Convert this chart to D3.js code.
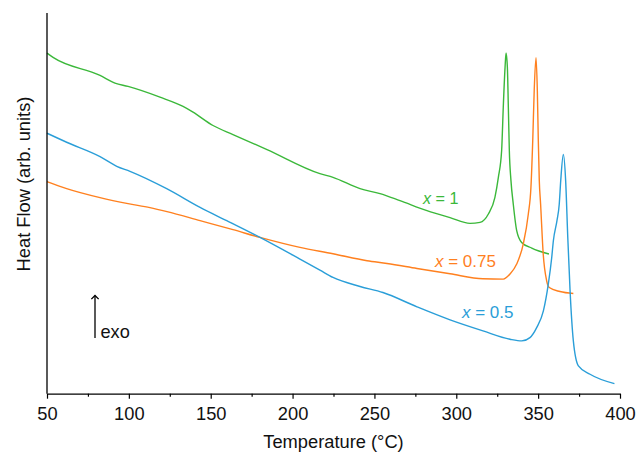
<!DOCTYPE html>
<html>
<head>
<meta charset="utf-8">
<script src="https://cdn.jsdelivr.net/npm/d3@7"></script>
<style>
  html, body { margin: 0; padding: 0; background: #fff; }
  svg { display: block; font-family: "Liberation Sans", Arial, sans-serif; }
</style>
</head>
<body>
<svg id="chart" width="637" height="452"></svg>
<script>
// DSC traces: temperature (°C) and heat flow (arb. units, exo up)
const tempX1 = [50, 53.7, 82.4, 91.5, 99.5, 119, 133.1, 139.2, 151.4, 163.6, 184.4, 216.7, 224.7, 241.2, 253.4, 265.6, 282.1, 296.2, 308.4, 314.5, 319.6, 323.6, 325.7, 327.7, 328.7, 329.8, 330.4, 331.2, 331.8, 332.4, 333.4, 334.8, 336.9, 339.9, 346.1, 356.6];
const flowX1 = [340, 335.7, 317.7, 310, 306.7, 296, 286.7, 281, 267.7, 258.7, 243.7, 219.7, 216, 204.7, 199.7, 192.7, 182.7, 175.7, 170, 171, 179.4, 196, 216, 242.7, 286, 326, 340, 326, 286, 242.7, 212.7, 189.4, 162.7, 151, 145.4, 139.4];

const tempX075 = [50, 62, 82.4, 99.5, 112.9, 123.3, 143.5, 163.6, 180.1, 204.5, 224.7, 245.5, 257.7, 276, 296.2, 316.3, 328.7, 332.8, 336.9, 340.9, 344, 345.6, 346.7, 347.6, 348.7, 349.5, 350.1, 350.7, 351.5, 353.1, 355.2, 356.8, 363.3, 371.5];
const flowX075 = [211.7, 204.7, 195.7, 189.7, 185.7, 181.7, 172.7, 163.7, 156, 146, 139.7, 132.7, 130, 125, 119.7, 114.7, 114.4, 119.4, 129.4, 149.4, 179.4, 206, 252.7, 302.7, 335.4, 302.7, 252.7, 212.7, 189.4, 139.4, 112.7, 106, 102, 100];

const tempX05 = [50, 62, 82.4, 92.6, 100.7, 123.1, 143.5, 159.8, 180.1, 204.5, 216.7, 224.7, 241.2, 255.2, 276, 296.2, 316.3, 332.8, 340, 345, 349.1, 353.2, 356.2, 358.3, 359.3, 361.5, 362.9, 363.8, 365.4, 366.8, 368.1, 369.5, 371.5, 374.6, 381.7, 396.6];
const flowX05 = [260, 251, 236.7, 227, 222, 204.7, 186, 172.7, 156, 134.4, 123.4, 116, 107, 101, 86.7, 73.7, 62.7, 54.4, 52.7, 56, 66, 82.7, 109.4, 136, 152.7, 172.7, 189.4, 212.7, 238.7, 212.7, 156, 102.7, 52.7, 27.7, 19.4, 10];

const seriesNames = ["x = 1", "x = 0.75", "x = 0.5"];
const seriesColors = ["#3bb83a", "#ff801f", "#2a9ed8"];

const majorTicks = [50, 100, 150, 200, 250, 300, 350, 400];
const minorTicks = [75, 125, 175, 225, 275, 325, 375];

const xLabel = "Temperature (°C)";
const yLabel = "Heat Flow (arb. units)";

const svg = d3.select("#chart");
const margin = { left: 47, right: 17, top: 13, bottom: 59 };
const W = 637, H = 452;

const x = d3.scaleLinear().domain([50, 400]).range([margin.left, W - margin.right]);
const y = d3.scaleLinear().domain([0, 380]).range([H - margin.bottom + 0.7, margin.top]);

const series = [
  { name: seriesNames[0], color: seriesColors[0], t: tempX1, f: flowX1, lx: 423, ly: 204, fs: 16.2 },
  { name: seriesNames[1], color: seriesColors[1], t: tempX075, f: flowX075, lx: 435, ly: 267, fs: 17 },
  { name: seriesNames[2], color: seriesColors[2], t: tempX05, f: flowX05, lx: 462, ly: 317.5, fs: 17 }
];

const line = d3.line()
  .x(d => x(d[0]))
  .y(d => y(d[1]))
  .curve(d3.curveMonotoneX);

series.forEach(s => {
  const pts = s.t.map((t, i) => [t, s.f[i]]);
  svg.append("path")
    .datum(pts)
    .attr("fill", "none")
    .attr("stroke", s.color)
    .attr("stroke-width", 1.4)
    .attr("d", line);
});

// Curve labels with italic x
series.forEach(s => {
  const parts = s.name.split(" ");
  const txt = svg.append("text")
    .attr("x", s.lx)
    .attr("y", s.ly)
    .attr("fill", s.color)
    .attr("font-size", s.fs);
  txt.append("tspan").attr("font-style", "italic").text(parts[0]);
  txt.append("tspan").text(" " + parts.slice(1).join(" "));
});

// Axes
const y0 = y(0);
svg.append("line")
  .attr("x1", margin.left).attr("x2", margin.left)
  .attr("y1", margin.top).attr("y2", y0)
  .attr("stroke", "#000").attr("stroke-width", 1.3);

const xAxis = d3.axisBottom(x).tickValues(majorTicks).tickSize(5).tickSizeOuter(0);
const gx = svg.append("g").attr("transform", `translate(0,${y0})`).call(xAxis);
gx.select(".domain").attr("stroke", "#000").attr("stroke-width", 1.3);
gx.selectAll(".tick line").attr("stroke", "#000").attr("stroke-width", 1.2);
gx.selectAll(".tick text")
  .attr("y", 420 - y0)
  .attr("dy", null)
  .attr("font-size", 18.3)
  .attr("font-family", "Liberation Sans, Arial, sans-serif")
  .attr("fill", "#111");

const xMinor = d3.axisBottom(x).tickValues(minorTicks).tickSize(3).tickFormat("");
const gm = svg.append("g").attr("transform", `translate(0,${y0})`).call(xMinor);
gm.select(".domain").remove();
gm.selectAll(".tick line").attr("stroke", "#000").attr("stroke-width", 1.2);

// Axis titles
svg.append("text")
  .attr("x", 333.5)
  .attr("y", 447.5)
  .attr("text-anchor", "middle")
  .attr("font-size", 18.3)
  .attr("fill", "#111")
  .text(xLabel);

svg.append("text")
  .attr("transform", "translate(30,184) rotate(-90)")
  .attr("text-anchor", "middle")
  .attr("font-size", 18.3)
  .attr("fill", "#111")
  .text(yLabel);

// Exothermic direction indicator
svg.append("defs").append("marker")
  .attr("id", "arrow")
  .attr("viewBox", "0 0 10 10")
  .attr("refX", 5).attr("refY", 5)
  .attr("markerWidth", 7).attr("markerHeight", 7)
  .attr("orient", "auto")
  .append("path")
  .attr("d", "M1,1 L5,5 L1,9")
  .attr("fill", "none")
  .attr("stroke", "#000")
  .attr("stroke-width", 1.5);

svg.append("line")
  .attr("x1", 95).attr("x2", 95)
  .attr("y1", 338).attr("y2", 295.5)
  .attr("stroke", "#000").attr("stroke-width", 1.3)
  .attr("marker-end", "url(#arrow)");

svg.append("text")
  .attr("x", 100.5).attr("y", 337.5)
  .attr("font-size", 18.2)
  .attr("fill", "#111")
  .text("exo");
</script>
</body>
</html>
